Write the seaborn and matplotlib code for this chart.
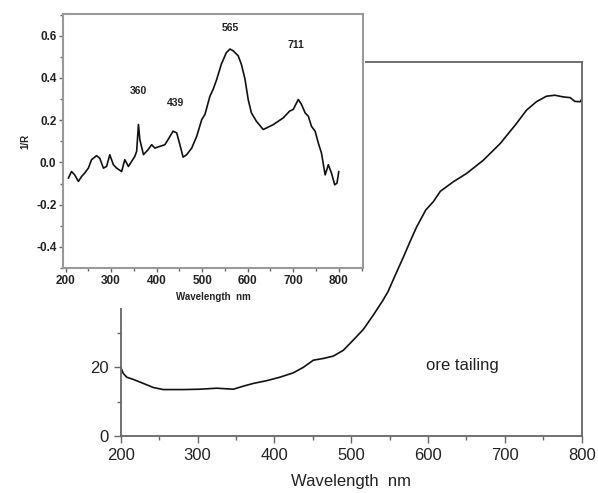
import matplotlib
matplotlib.use("Agg")
import matplotlib.pyplot as plt
import seaborn as sns
import pandas as pd
from matplotlib.patches import Rectangle
from matplotlib.ticker import MultipleLocator

# ================================
# DATA
# ================================
# main spectrum (ore tailing)
main_wl = [200, 203.5, 208, 216, 229.5, 242.5, 255.5, 281.6, 303, 325, 346.6, 359.7,
           372.7, 390, 407, 424.7, 437.7, 450.8, 463.8, 476.8, 489.8, 502.8, 515.8,
           528.8, 541, 548, 558, 568, 577, 585, 590, 597, 607, 616, 633, 650, 663,
           672, 694, 715, 728, 741, 754, 765, 776, 785, 791, 798, 800]
main_val = [20, 18.2, 17.1, 16.5, 15.3, 14.1, 13.5, 13.5, 13.6, 13.9, 13.6, 14.5,
            15.3, 16.1, 17.1, 18.4, 20, 22.1, 22.6, 23.3, 25, 28, 31.1,
            35.3, 39.5, 42.2, 47.3, 52.3, 57, 61, 63.1, 66, 68.5, 71.5, 74.3, 76.7, 79,
            80.6, 85.5, 91.3, 95.2, 97.7, 99.3, 99.6, 99.1, 98.9, 97.8, 97.7, 98.4]

# inset spectrum (1/R)
inset_wl = [206, 213, 220, 228, 235, 242, 250, 257, 268, 275, 283, 290, 297, 305, 312,
            323, 330, 338, 345, 352, 356, 360, 363, 371, 381, 389, 396, 407, 418, 425,
            436, 444, 451, 458, 466, 477, 488, 499, 506, 517, 524, 532, 542, 553, 561,
            568, 579, 586, 594, 601, 608, 619, 634, 641, 656, 667, 678, 692, 700, 711,
            718, 726, 733, 740, 748, 755, 762, 770, 777, 784, 791, 796, 800]
inset_val = [-0.075, -0.043, -0.059, -0.09, -0.067, -0.05, -0.027, 0.013, 0.032, 0.02,
             -0.027, -0.019, 0.036, -0.011, -0.027, -0.043, 0.013, -0.019, 0.005, 0.029,
             0.052, 0.18, 0.108, 0.037, 0.06, 0.084, 0.068, 0.076, 0.084, 0.108,
             0.148, 0.14, 0.084, 0.025, 0.037, 0.068, 0.124, 0.203, 0.227, 0.314,
             0.346, 0.394, 0.465, 0.52, 0.537, 0.529, 0.505, 0.465, 0.394, 0.298,
             0.235, 0.195, 0.156, 0.163, 0.179, 0.195, 0.211, 0.243, 0.251, 0.298,
             0.275, 0.235, 0.219, 0.171, 0.148, 0.092, 0.044, -0.059, -0.011, -0.051,
             -0.106, -0.098, -0.043]

peak_labels = ["360", "439", "565", "711"]
peak_x = [359, 441, 562, 706]
peak_y = [0.34, 0.28, 0.636, 0.556]

main_df = pd.DataFrame({"wl": main_wl, "val": main_val})
inset_df = pd.DataFrame({"wl": inset_wl, "val": inset_val})

# ================================
# PLOT
# ================================
sns.set_style("white")
plt.rcParams["font.family"] = ["Liberation Sans", "DejaVu Sans"]
plt.rcParams["axes.unicode_minus"] = False

spine_col = "#666666"
fig = plt.figure(figsize=(5.98, 4.93), dpi=100)

ax = fig.add_axes([0.2018, 0.1162, 0.771, 0.7586])
ax.set_zorder(0)
sns.lineplot(data=main_df, x="wl", y="val", ax=ax, color="#111111", lw=1.2)
ax.set_xlim(200, 800)
ax.set_ylim(0, 109.4)
ax.xaxis.set_major_locator(MultipleLocator(100))
ax.xaxis.set_minor_locator(MultipleLocator(50))
ax.yaxis.set_major_locator(MultipleLocator(20))
ax.yaxis.set_minor_locator(MultipleLocator(10))
ax.tick_params(which="major", direction="out", length=5, width=1, color=spine_col,
               labelsize=12, left=True, bottom=True, colors="#222222")
ax.tick_params(which="minor", direction="out", length=3, width=1, color=spine_col,
               left=True, bottom=True)
for s in ax.spines.values():
    s.set_color(spine_col)
    s.set_linewidth(1.3)
ax.set_xlabel("Wavelength  nm", fontsize=12, color="#222222", labelpad=8)
ax.set_ylabel("")
ax.text(645, 20.4, "ore tailing", fontsize=12, color="#222222", ha="center", va="center")

# white cover behind inset
fig.patches.append(Rectangle((0, 0.375), 0.61, 0.625, transform=fig.transFigure,
                             facecolor="white", edgecolor="none", zorder=1))

ins = fig.add_axes([0.1059, 0.4564, 0.501, 0.5152])
ins.set_zorder(2)
sns.lineplot(data=inset_df, x="wl", y="val", ax=ins, color="#111111", lw=1.2)
ins.set_xlim(195, 853)
ins.set_ylim(-0.5, 0.703)
ins.xaxis.set_major_locator(MultipleLocator(100))
ins.xaxis.set_minor_locator(MultipleLocator(50))
ins.yaxis.set_major_locator(MultipleLocator(0.2))
ins.yaxis.set_minor_locator(MultipleLocator(0.1))
ins.set_xticks(range(200, 801, 100))
ins.tick_params(which="major", direction="out", length=3, width=1, color=spine_col,
                labelsize=8.5, left=True, bottom=True, pad=2)
ins.tick_params(which="minor", direction="out", length=2, width=1, color=spine_col,
                left=True, bottom=True)
for lab in ins.get_xticklabels() + ins.get_yticklabels():
    lab.set_fontweight("bold")
    lab.set_color("#222222")
for s in ins.spines.values():
    s.set_color("#999999")
    s.set_linewidth(1.5)
ins.set_xlabel("Wavelength  nm", fontsize=7, fontweight="bold", color="#222222", labelpad=4)
ins.set_ylabel("1/R", fontsize=7, fontweight="bold", color="#222222", labelpad=4)
for lab, px, py in zip(peak_labels, peak_x, peak_y):
    ins.text(px, py, lab, fontsize=7.5, fontweight="bold", color="#222222",
             ha="center", va="center")

fig.savefig("out.png", dpi=100)
